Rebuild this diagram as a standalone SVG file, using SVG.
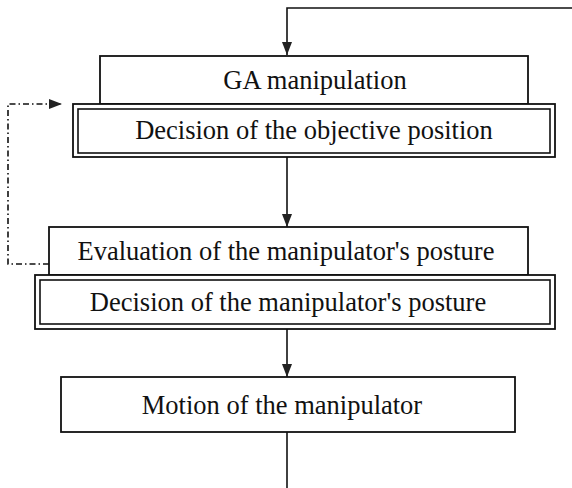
<svg xmlns="http://www.w3.org/2000/svg" width="572" height="488" viewBox="0 0 572 488">
<style>
.box{fill:#fff;stroke:#111;stroke-width:1.8}
.inner{fill:none;stroke:#111;stroke-width:1.6}
.ln{fill:none;stroke:#111;stroke-width:1.6}
.dash{fill:none;stroke:#111;stroke-width:1.6;stroke-dasharray:6,3,1.5,3}
.t{font-family:"Liberation Serif","Times New Roman",serif;font-size:26.5px;fill:#111;text-anchor:middle;dominant-baseline:central}
</style>
<defs>
<marker id="ah" markerWidth="13" markerHeight="10" refX="13" refY="5" orient="auto" markerUnits="userSpaceOnUse">
<path d="M0,0 L13,5 L0,10 Z" fill="#222"/>
</marker>
</defs>
<rect width="572" height="488" fill="#fff"/>
<g id="connectors">
<path class="ln" d="M572,8 H287 V55" marker-end="url(#ah)"/>
<path class="ln" d="M287,157 V227" marker-end="url(#ah)"/>
<path class="ln" d="M287,329 V377" marker-end="url(#ah)"/>
<path class="ln" d="M287,432 V488"/>
<path class="dash" d="M49,264 H8 V104 H62" marker-end="url(#ah)"/>
</g>
<g id="ga">
<rect class="box" x="100" y="56" width="428" height="48"/>
<text class="t" x="315" y="80">GA manipulation</text>
</g>
<g id="decision-objective">
<rect class="box" x="73" y="104" width="482" height="53"/>
<rect class="inner" x="78" y="109" width="472" height="44"/>
<text class="t" x="314" y="130">Decision of the objective position</text>
</g>
<g id="evaluation">
<rect class="box" x="49" y="227" width="479" height="48"/>
<text class="t" x="286" y="251">Evaluation of the manipulator's posture</text>
</g>
<g id="decision-posture">
<rect class="box" x="35" y="275" width="520" height="54"/>
<rect class="inner" x="40" y="280" width="510" height="44"/>
<text class="t" x="288" y="302">Decision of the manipulator's posture</text>
</g>
<g id="motion">
<rect class="box" x="61" y="377" width="454" height="55"/>
<text class="t" x="282" y="405">Motion of the manipulator</text>
</g>
</svg>
